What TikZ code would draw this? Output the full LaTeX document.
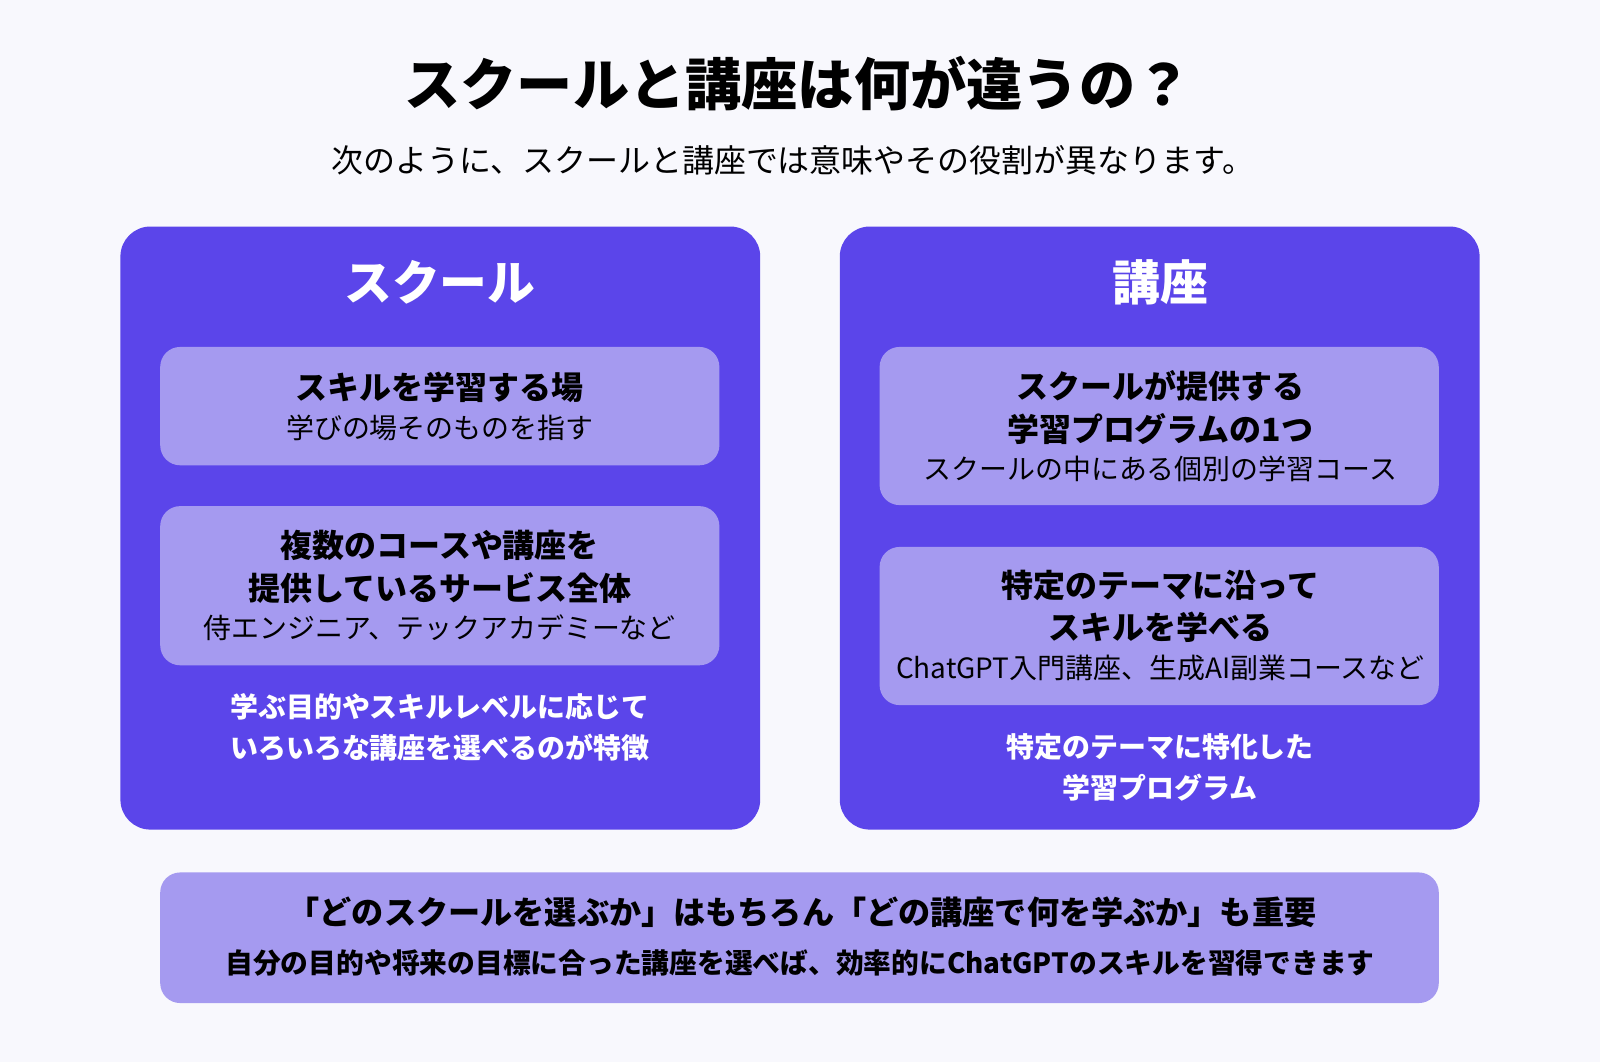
\documentclass[tikz,border=0pt]{standalone}
\usepackage{fontspec}
\setmainfont{Noto Sans CJK JP}
\usetikzlibrary{positioning}
\definecolor{bgc}{HTML}{F8F8FD}
\definecolor{panel}{HTML}{5B45EA}
\definecolor{card}{HTML}{A59AF0}
\begin{document}
\begin{tikzpicture}[x=0.010204cm,y=-0.010204cm,
    panel box/.style={fill=panel,rounded corners=0.3cm},
    card box/.style={fill=card,rounded corners=0.2cm},
    head text/.style={text=white,font=\fontsize{13.6}{17}\selectfont\bfseries},
    card text/.style={align=center,font=\fontsize{9.1}{12}\selectfont\bfseries},
    note text/.style={align=center,text=white,font=\fontsize{7.95}{11.6}\selectfont\bfseries}]
  \fill[bgc] (0,0) rectangle (1568,1041);

  \node (title) at (782,82) {\fontsize{16}{19}\selectfont\bfseries スクールと講座は何が違うの？};
  \node (sub) at (777,157) {\fontsize{9.1}{11}\selectfont 次のように、スクールと講座では意味やその役割が異なります。};

  % left panel
  \fill[panel box] (118,222) rectangle (745,813);
  \node[head text] (lhead) at (431,277) {スクール};
  \fill[card box] (157,340) rectangle (705,456);
  \node[card text] (l1) at (431,398) {スキルを学習する場\\[-1pt]{\mdseries\fontsize{7.95}{10}\selectfont 学びの場そのものを指す}};
  \fill[card box] (157,496) rectangle (705,652);
  \node[card text] (l2) at (431,574) {複数のコースや講座を\\提供しているサービス全体\\[-1pt]{\mdseries\fontsize{7.95}{10}\selectfont 侍エンジニア、テックアカデミーなど}};
  \node[note text] (lnote) at (431,713) {学ぶ目的やスキルレベルに応じて\\いろいろな講座を選べるのが特徴};

  % right panel
  \fill[panel box] (823,222) rectangle (1450,813);
  \node[head text] (rhead) at (1137,277) {講座};
  \fill[card box] (862,340) rectangle (1410,495);
  \node[card text] (r1) at (1137,418) {スクールが提供する\\学習プログラムの1つ\\[-1pt]{\mdseries\fontsize{7.95}{10}\selectfont スクールの中にある個別の学習コース}};
  \fill[card box] (862,536) rectangle (1410,691);
  \node[card text] (r2) at (1137,613) {特定のテーマに沿って\\スキルを学べる\\[-1pt]{\mdseries\fontsize{7.95}{10}\selectfont ChatGPT入門講座、生成AI副業コースなど}};
  \node[note text] (rnote) at (1137,752) {特定のテーマに特化した\\学習プログラム};

  % bottom
  \fill[card box] (157,855) rectangle (1410,983);
  \node[font=\fontsize{9.15}{11}\selectfont\bfseries] (b1) at (786,894) {「どのスクールを選ぶか」はもちろん「どの講座で何を学ぶか」も重要};
  \node[font=\fontsize{7.9}{9}\selectfont\bfseries] (b2) at (784,944) {自分の目的や将来の目標に合った講座を選べば、効率的にChatGPTのスキルを習得できます};
  \pgfresetboundingbox
  \useasboundingbox (0,0) rectangle (1568,1041);
\end{tikzpicture}
\end{document}
